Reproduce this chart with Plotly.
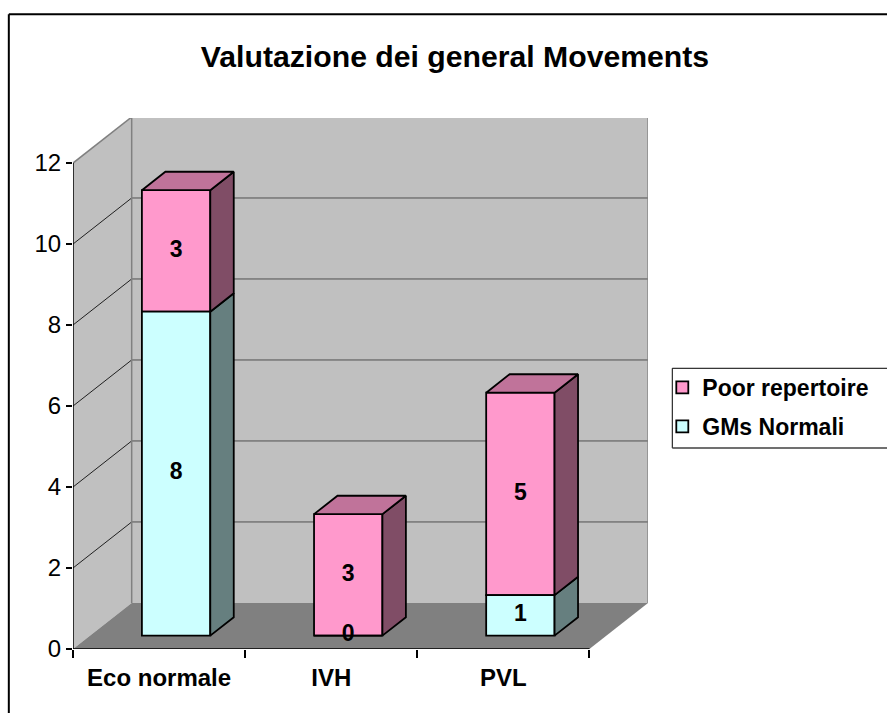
import plotly.graph_objects as go

categories = ["Eco normale", "IVH", "PVL"]
gms_normali = [8, 0, 1]
poor_repertoire = [3, 3, 5]
y_ticks = [0, 2, 4, 6, 8, 10, 12]

W, H = 887, 713
L, R, T, B = 72.5, 647.7, 118.3, 648.7
CAT_PX = 172.2
UNIT_PX = 40.45
WALL_DX = 58.7 / CAT_PX
WALL_DY = 46 / UNIT_PX
BAR_W = 68.4 / CAT_PX
NEAR, FAR = 0.29, 0.69
XMAX = (R - L) / CAT_PX
YMAX = (B - T) / UNIT_PX

WALL, EDGE, FLOOR = "#C0C0C0", "#808080", "#808080"
PINK, PINK_TOP, PINK_SIDE = "#FF99CC", "#C0739A", "#804D66"
CYAN, CYAN_SIDE = "#CCFFFF", "#667F7F"
TEXT = "Liberation Sans"
BAR_LINE = 1.8


def px(x):
    return (x - L) / (R - L)


def py(y):
    return (B - y) / (B - T)


n = len(categories)
shapes = []


def poly(pts, fill, line=None, width=0):
    path = "M " + " L ".join(f"{x},{y}" for x, y in pts) + " Z"
    shapes.append(dict(type="path", path=path, xref="x", yref="y", layer="below",
                       fillcolor=fill, line=dict(color=line or fill, width=width)))


def seg(x0, y0, x1, y1, color, width=1):
    shapes.append(dict(type="line", xref="x", yref="y", layer="below",
                       x0=x0, y0=y0, x1=x1, y1=y1, line=dict(color=color, width=width)))


top = y_ticks[-1]
poly([(0, 0), (0, top), (WALL_DX, top + WALL_DY), (WALL_DX, WALL_DY)], WALL)
poly([(WALL_DX, WALL_DY), (WALL_DX, top + WALL_DY), (n + WALL_DX, top + WALL_DY), (n + WALL_DX, WALL_DY)], WALL)
poly([(0, 0), (n, 0), (n + WALL_DX, WALL_DY), (WALL_DX, WALL_DY)], FLOOR)
for t in y_ticks[1:-1]:
    seg(0, t, WALL_DX, t + WALL_DY, "#202020")
    seg(WALL_DX, t + WALL_DY, n + WALL_DX, t + WALL_DY, "#505050")
seg(0, top, WALL_DX, top + WALL_DY, EDGE, 1.5)
seg(WALL_DX, WALL_DY, WALL_DX, top + WALL_DY, EDGE, 1.5)
seg(WALL_DX, top + WALL_DY, n + WALL_DX, top + WALL_DY, EDGE, 1.5)
seg(n + WALL_DX, WALL_DY, n + WALL_DX, top + WALL_DY, EDGE, 1.5)

# outer chart frame and legend box: their far edges fall outside the picture
frame_lines = [
    (8.3, 14.7, W, 14.7, "black", 2),
    (8.3, 14.7, 8.3, H, "black", 2),
    (672, 368.3, W, 368.3, "black", 1),
    (672, 368.3, 672, 448, "black", 1),
    (672, 448, W, 448, "#404040", 1.5),
]
for x0, y0, x1, y1, c, w in frame_lines:
    shapes.append(dict(type="line", xref="paper", yref="paper", layer="below",
                       x0=px(x0), x1=px(x1), y0=py(y0), y1=py(y1),
                       line=dict(color=c, width=w)))

centers = [i + 0.5 + NEAR * WALL_DX for i in range(n)]
base0 = NEAR * WALL_DY
base_poor = [base0 + g for g in gms_normali]

fig = go.Figure()
fig.add_bar(x=centers, y=poor_repertoire, base=base_poor, width=BAR_W, name="Poor repertoire",
            legendgroup="a", marker=dict(color=PINK, line=dict(color="black", width=BAR_LINE)))
fig.add_bar(x=centers, y=gms_normali, base=[base0] * n, width=BAR_W, name="GMs Normali",
            legendgroup="b", marker=dict(color=CYAN, line=dict(color="black", width=BAR_LINE)))

ddx = (FAR - NEAR) * WALL_DX
ddy = (FAR - NEAR) * WALL_DY


def face(xs, ys, fill):
    fig.add_scatter(x=xs + xs[:1], y=ys + ys[:1], mode="lines", fill="toself", fillcolor=fill,
                    line=dict(color="black", width=BAR_LINE), showlegend=False, hoverinfo="skip")


for i in range(n):
    xr = centers[i] + BAR_W / 2
    xl = centers[i] - BAR_W / 2
    g, p = gms_normali[i], poor_repertoire[i]
    if g > 0:
        face([xr, xr + ddx, xr + ddx, xr], [base0, base0 + ddy, base0 + g + ddy, base0 + g], CYAN_SIDE)
    face([xr, xr + ddx, xr + ddx, xr], [base0 + g, base0 + g + ddy, base0 + g + p + ddy, base0 + g + p], PINK_SIDE)
    t = base0 + g + p
    face([xl, xl + ddx, xr + ddx, xr], [t, t + ddy, t + ddy, t], PINK_TOP)

# front axis lines
fig.add_scatter(x=[0, 0, n], y=[top, 0, 0], mode="lines", line=dict(color="black", width=1.5),
                showlegend=False, hoverinfo="skip")

# data labels
lx, ly, lt = [], [], []
for i in range(n):
    g, p = gms_normali[i], poor_repertoire[i]
    lx += [centers[i], centers[i]]
    ly += [base0 + g / 2, base0 + g + p / 2]
    lt += [str(g), str(p)]
fig.add_scatter(x=lx, y=ly, text=lt, mode="text", showlegend=False, hoverinfo="skip",
                textfont=dict(family=TEXT, size=23, color="black", weight="bold"))

fig.update_layout(
    width=W, height=H, autosize=False,
    margin=dict(l=L, r=W - R, t=T, b=H - B, pad=0),
    paper_bgcolor="white", plot_bgcolor="white",
    barmode="overlay", shapes=shapes,
    title=dict(text="<b>Valutazione dei general Movements</b>", x=455 / W, xanchor="center",
               y=1 - 56 / H, yanchor="middle",
               font=dict(family=TEXT, size=30.2, color="black")),
    legend=dict(x=px(662), xanchor="left", y=py(366), yanchor="top",
                borderwidth=0, bgcolor="rgba(0,0,0,0)",
                font=dict(family=TEXT, size=23, color="black", weight="bold"),
                traceorder="grouped", tracegroupgap=6, itemwidth=30),
    xaxis=dict(range=[0, XMAX], tickmode="array", tickvals=[i + 0.5 for i in range(n)],
               ticktext=categories, ticks="", showgrid=False, zeroline=False, showline=False,
               tickfont=dict(family=TEXT, size=24, color="black", weight="bold"), ticklabelstandoff=12,
               minor=dict(tickmode="array", tickvals=list(range(n + 1)), ticks="outside", ticklen=8,
                          tickcolor="black", tickwidth=1.5, showgrid=False)),
    yaxis=dict(range=[0, YMAX], tickmode="array", tickvals=y_ticks, ticks="outside", ticklen=6,
               tickcolor="black", tickwidth=1.5, showgrid=False, zeroline=False, showline=False,
               tickfont=dict(family=TEXT, size=24, color="black")),
)

fig.write_html("out.html", config={"displayModeBar": False},
               post_script="document.body.style.margin='0';")
